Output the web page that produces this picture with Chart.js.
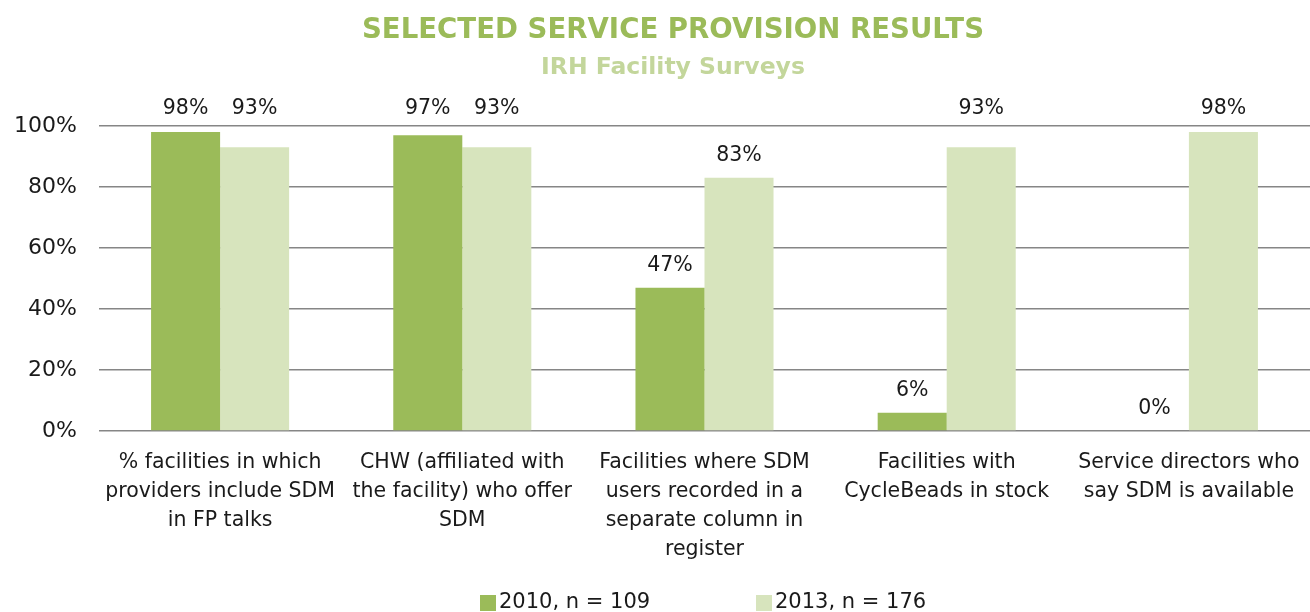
<!DOCTYPE html>
<html>
<head>
<meta charset="utf-8">
<script src="https://cdn.jsdelivr.net/npm/chart.js@4.4.1/dist/chart.umd.min.js"></script>
<style>
  html, body { margin: 0; padding: 0; background: #ffffff; }
  #wrap { width: 1310px; height: 612px; position: relative; }
</style>
</head>
<body>
<div id="wrap"><canvas id="c" width="1310" height="612"></canvas></div>
<script>
const titleText = "SELECTED SERVICE PROVISION RESULTS";
const subtitleText = "IRH Facility Surveys";
const categories = [
  ["% facilities in which", "providers include SDM", "in FP talks"],
  ["CHW (affiliated with", "the facility) who offer", "SDM"],
  ["Facilities where SDM", "users recorded in a", "separate column in", "register"],
  ["Facilities with", "CycleBeads in stock"],
  ["Service directors who", "say SDM is available"]
];
const seriesNames = ["2010, n = 109", "2013, n = 176"];
const values2010 = [98, 97, 47, 6, 0];
const values2013 = [93, 93, 83, 93, 98];
const yTickValues = [0, 20, 40, 60, 80, 100];

const DARK = "#9BBB59";
const LIGHT = "#D7E4BD";
const FONT = "'DejaVu Sans', sans-serif";

const decorPlugin = {
  id: "decor",
  afterDatasetsDraw(chart) {
    const ctx = chart.ctx;
    const top = chart.chartArea.top;
    ctx.save();
    // data labels
    ctx.fillStyle = "#1a1a1a";
    ctx.font = "20.5px " + FONT;
    ctx.textAlign = "center";
    ctx.textBaseline = "middle";
    chart.data.datasets.forEach((ds, di) => {
      const meta = chart.getDatasetMeta(di);
      meta.data.forEach((bar, i) => {
        let y = bar.y - 22;
        if (y > top - 17 && y < top + 14) y = top - 17;
        ctx.fillText(ds.data[i] + "%", bar.x, y);
      });
    });
    // title
    ctx.fillStyle = DARK;
    ctx.font = "bold 30px " + FONT;
    let w = ctx.measureText(titleText).width;
    let size = 30 * 623 / w;
    ctx.font = "bold " + size.toFixed(1) + "px " + FONT;
    ctx.fillText(titleText, 673, 31);
    ctx.fillStyle = "#C3D69B";
    ctx.font = "bold 22px " + FONT;
    w = ctx.measureText(subtitleText).width;
    size = 22 * 264 / w;
    ctx.font = "bold " + size.toFixed(1) + "px " + FONT;
    ctx.fillText(subtitleText, 673, 68);
    // legend
    ctx.font = "21px " + FONT;
    ctx.textAlign = "left";
    const legendX = [480, 756];
    const colors = [DARK, LIGHT];
    seriesNames.forEach((name, i) => {
      ctx.fillStyle = colors[i];
      ctx.fillRect(legendX[i], 595, 16, 16);
      ctx.fillStyle = "#1a1a1a";
      ctx.fillText(name, legendX[i] + 19, 603);
    });
    ctx.restore();
  }
};

new Chart(document.getElementById("c"), {
  type: "bar",
  data: {
    labels: categories,
    datasets: [
      { label: seriesNames[0], data: values2010, backgroundColor: DARK, barPercentage: 1.0, categoryPercentage: 0.57 },
      { label: seriesNames[1], data: values2013, backgroundColor: LIGHT, barPercentage: 1.0, categoryPercentage: 0.57 }
    ]
  },
  options: {
    responsive: false,
    animation: false,
    layout: { padding: { top: 126, left: 0, right: 0, bottom: 0 } },
    plugins: { legend: { display: false }, title: { display: false }, tooltip: { enabled: false } },
    scales: {
      x: {
        grid: { display: false, drawTicks: false },
        border: { display: false },
        ticks: { color: "#1a1a1a", font: { family: FONT, size: 20.5, lineHeight: 1.42 }, maxRotation: 0, minRotation: 0, autoSkip: false, padding: 17 },
        afterFit(scale) { scale.height = 181; scale.paddingLeft = 0; scale.paddingRight = 0; }
      },
      y: {
        min: 0, max: 100,
        afterBuildTicks(scale) { scale.ticks = yTickValues.map(v => ({ value: v })); },
        grid: { color: "#868686", lineWidth: 1.6, drawTicks: false },
        border: { display: false },
        ticks: { color: "#1a1a1a", font: { family: FONT, size: 22 }, padding: 22, callback: v => v + "%" },
        afterFit(scale) { scale.width = 99; scale.paddingTop = 0; scale.paddingBottom = 0; }
      }
    }
  },
  plugins: [decorPlugin]
});
</script>
</body>
</html>
